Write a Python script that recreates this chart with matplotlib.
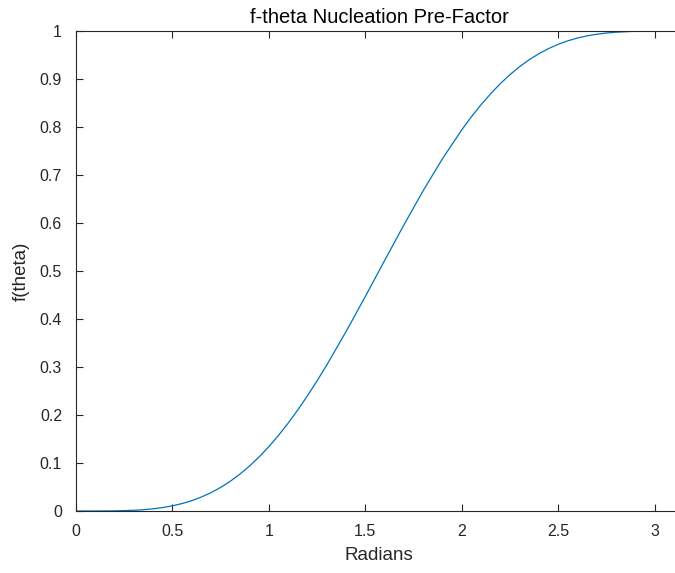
import numpy as np
import matplotlib
matplotlib.use("Agg")
import matplotlib.pyplot as plt

# values (Radians -> f(theta))
radians = [0.0, 0.1, 0.2, 0.3, 0.35, 0.4, 0.45, 0.5, 0.55, 0.6, 0.65, 0.7, 0.75,
           0.8, 0.85, 0.9, 0.95, 1.0, 1.05, 1.1, 1.15, 1.2, 1.25, 1.3, 1.4, 1.5,
           1.6, 1.7, 1.8, 1.9, 2.0, 2.05, 2.1, 2.15, 2.2, 2.25, 2.3, 2.35, 2.4,
           2.45, 2.5, 2.55, 2.6, 2.65, 2.7, 2.75, 2.8, 2.9, 3.0, 3.1416]
f_theta = [0.0, 0.0000, 0.0003, 0.0015, 0.0027, 0.0046, 0.0072, 0.0108, 0.0155, 0.0215, 0.0291, 0.0382, 0.0492,
           0.0620, 0.0769, 0.0938, 0.1129, 0.1342, 0.1576, 0.1831, 0.2107, 0.2401, 0.2713, 0.3042, 0.3738, 0.4470,
           0.5219, 0.5961, 0.6675, 0.7340, 0.7941, 0.8214, 0.8465, 0.8695, 0.8904, 0.9092, 0.9258, 0.9403, 0.9528,
           0.9634, 0.9723, 0.9796, 0.9854, 0.9899, 0.9933, 0.9958, 0.9975, 0.9994, 0.9999, 1.0]

x_ticks = [0, 0.5, 1, 1.5, 2, 2.5, 3]
x_labels = ["0", "0.5", "1", "1.5", "2", "2.5", "3"]
y_ticks = [0, 0.1, 0.2, 0.3, 0.4, 0.5, 0.6, 0.7, 0.8, 0.9, 1]
y_labels = ["0", "0.1", "0.2", "0.3", "0.4", "0.5", "0.6", "0.7", "0.8", "0.9", "1"]

plt.rcParams['font.family'] = ['Liberation Sans', 'DejaVu Sans']

fig = plt.figure(figsize=(6.75, 5.73), dpi=100)
W, H = 675, 573
ax = fig.add_axes([76 / W, (H - 511) / H, (682 - 76) / W, (511 - 31) / H])

ax.plot(radians, f_theta, color="#0072BD", linewidth=0.9)

ax.set_xlim(0, np.pi)
ax.set_ylim(0, 1)
ax.set_xticks(x_ticks)
ax.set_xticklabels(x_labels)
ax.set_yticks(y_ticks)
ax.set_yticklabels(y_labels)

grey = "#262626"
for s in ax.spines.values():
    s.set_color(grey)
    s.set_linewidth(0.8)
ax.tick_params(direction="in", top=True, right=True, length=5, width=0.8,
               colors=grey, labelsize=11.5)
ax.tick_params(axis="x", pad=9)
ax.tick_params(axis="y", pad=10)

ax.set_xlabel("Radians", fontsize=13.5, color=grey, labelpad=6)
ax.set_ylabel("f(theta)", fontsize=13.5, color=grey, labelpad=7)
ax.set_title("f-theta Nucleation Pre-Factor", fontsize=14.5, color="black", pad=6)

fig.savefig("out.png", dpi=100)
